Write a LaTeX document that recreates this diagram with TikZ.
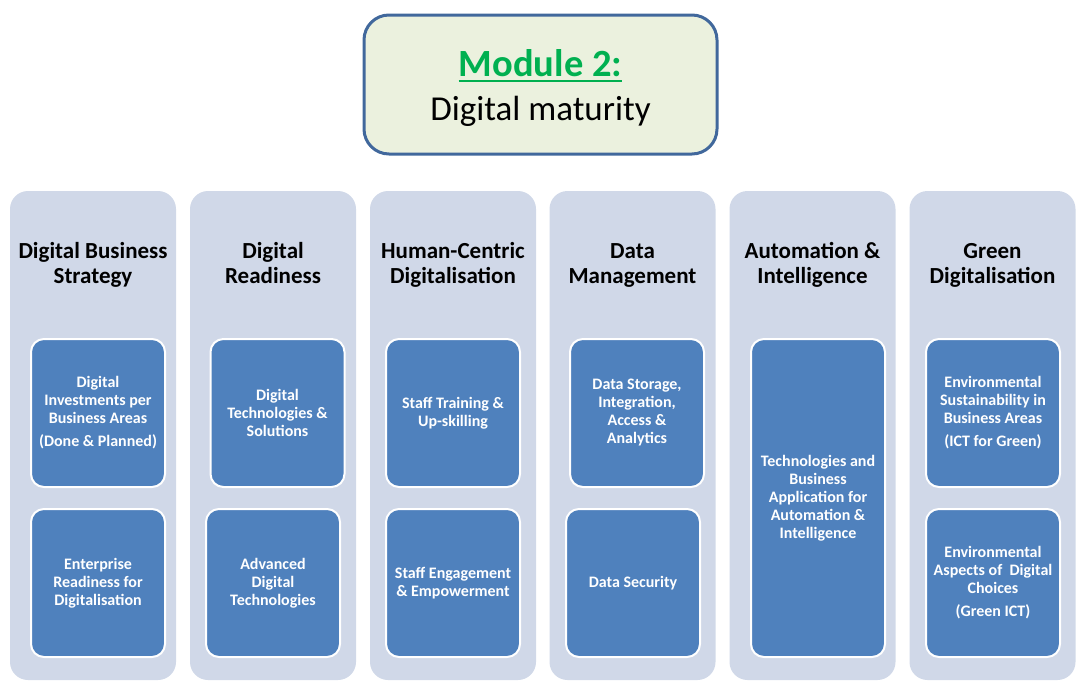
\documentclass[tikz,border=0pt]{standalone}
\usepackage{fontspec}
\setmainfont{Carlito}
\definecolor{colfill}{HTML}{D0D8E8}
\definecolor{innerfill}{HTML}{4F81BD}
\definecolor{titlefill}{HTML}{EBF1DE}
\definecolor{titleborder}{HTML}{41689C}
\definecolor{modgreen}{HTML}{00B050}
\newcommand{\hl}[1]{\strut #1}
\tikzset{
  colbox/.style={rectangle, rounded corners=18pt, fill=colfill, draw=none, minimum width=166pt, minimum height=489pt, inner sep=0pt},
  innerbox/.style={rectangle, rounded corners=13pt, fill=innerfill, draw=white, line width=2pt, minimum width=134pt, minimum height=148pt, inner sep=0pt, text=white, align=center, font=\fontsize{16}{18}\selectfont\bfseries},
  heading/.style={align=center, anchor=north, font=\fontsize{23}{25}\selectfont\bfseries, text=black, inner sep=0pt},
  titlebox/.style={rectangle, rounded corners=25pt, fill=titlefill, draw=titleborder, line width=3pt, minimum width=353pt, minimum height=139pt, inner sep=0pt}
}
\begin{document}
\begin{tikzpicture}[x=1pt,y=-1pt]
\useasboundingbox (0,0) rectangle (1087,696);
% title
\node[titlebox] (title) at (540.5,84.5) {};
\node[inner sep=0pt, anchor=base, text=modgreen, font=\fontsize{38.5}{40}\selectfont\bfseries] (mod) at (540.5,76) {Module 2:};
\draw[modgreen, line width=2.2pt] ([yshift=-5pt]mod.base west) -- ([yshift=-5pt]mod.base east);
\node[inner sep=0pt, anchor=base, font=\fontsize{35}{40}\selectfont] (dm) at (540.5,120) {Digital maturity};
% columns
\node[colbox] (c1) at (93,435.5) {};
\node[colbox] (c2) at (273,435.5) {};
\node[colbox] (c3) at (453,435.5) {};
\node[colbox] (c4) at (632.5,435.5) {};
\node[colbox] (c5) at (812.5,435.5) {};
\node[colbox] (c6) at (992.5,435.5) {};
% headings
\node[heading] (h1) at (93,240.5) {\hl{Digital Business}\\\hl{Strategy}};
\node[heading] (h2) at (273,240.5) {\hl{Digital}\\\hl{Readiness}};
\node[heading] (h3) at (453,240.5) {\hl{Human-Centric}\\\hl{Digitalisation}};
\node[heading] (h4) at (632.5,240.5) {\hl{Data}\\\hl{Management}};
\node[heading] (h5) at (812.5,240.5) {\hl{Automation \&}\\\hl{Intelligence}};
\node[heading] (h6) at (992.5,240.5) {\hl{Green}\\\hl{Digitalisation}};
% inner boxes
\node[innerbox] (b11) at (98,413) {Digital\\Investments per\\Business Areas\\[5pt](Done \& Planned)};
\node[innerbox] (b12) at (98,583) {Enterprise\\Readiness for\\Digitalisation};
\node[innerbox] (b21) at (277.5,413) {Digital\\Technologies \&\\Solutions};
\node[innerbox] (b22) at (273,583) {Advanced\\Digital\\Technologies};
\node[innerbox] (b31) at (453,413) {Staff Training \&\\Up-skilling};
\node[innerbox] (b32) at (453,583) {Staff Engagement\\\& Empowerment};
\node[innerbox] (b41) at (637,413) {Data Storage,\\Integration,\\Access \&\\Analytics};
\node[innerbox] (b42) at (633,583) {Data Security};
\node[innerbox, minimum height=318pt] (b51) at (818,498) {Technologies and\\Business\\Application for\\Automation \&\\Intelligence};
\node[innerbox] (b61) at (993,413) {Environmental\\Sustainability in\\Business Areas\\[5pt](ICT for Green)};
\node[innerbox] (b62) at (993,583) {Environmental\\Aspects of~ Digital\\Choices\\[5pt](Green ICT)};
\end{tikzpicture}
\end{document}
